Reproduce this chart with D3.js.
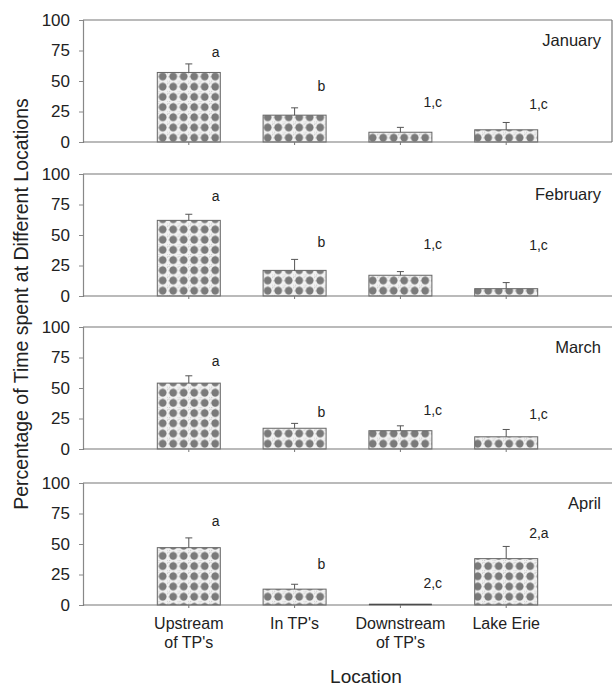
<!DOCTYPE html>
<html>
<head>
<meta charset="utf-8">
<script src="https://cdn.jsdelivr.net/npm/d3@7"></script>
<style>
  body { margin: 0; background: #fff; }
  text { font-family: "Liberation Sans", Arial, sans-serif; fill: #222; }
</style>
</head>
<body>
<svg id="chart" width="613" height="686"></svg>
<script>
// Data
const locations = ["Upstream|of TP's", "In TP's", "Downstream|of TP's", "Lake Erie"];
const months = ["January", "February", "March", "April"];
const means = [
  [57, 22, 8, 10],
  [62, 21, 17, 6],
  [54, 17, 15, 10],
  [47, 13, 0, 38]
];
const errTops = [
  [64, 28, 12, 16],
  [67, 30, 20, 11],
  [60, 21, 19, 16],
  [55, 17, 0, 48]
];
const letters = [
  ["a", "b", "1,c", "1,c"],
  ["a", "b", "1,c", "1,c"],
  ["a", "b", "1,c", "1,c"],
  ["a", "b", "2,c", "2,a"]
];
const letterY = [
  [74, 46, 33, 31],
  [82, 44, 43, 42],
  [72, 30, 32, 29],
  [69, 34, 18, 59]
];
const yTicks = [0, 25, 50, 75, 100];

const svg = d3.select("#chart");
const left = 83, right = 612;
const panelTops = [20, 174, 327, 483];
const panelH = 122;
const barW = 63;

// blotchy dot fill like the printed pattern
const defs = svg.append("defs");
const pat = defs.append("pattern")
  .attr("id", "dots")
  .attr("patternUnits", "userSpaceOnUse")
  .attr("width", 10.5)
  .attr("height", 10.2);
pat.append("rect").attr("width", 10.5).attr("height", 10.2).attr("fill", "#f2f2f2");
[[0.5, 0.8], [9.6, 1.5], [1.2, 9.4], [9.8, 9.6], [5.1, 0.3], [0.3, 5.0]].forEach(p => {
  pat.append("rect").attr("x", p[0]).attr("y", p[1]).attr("width", 0.9).attr("height", 0.9).attr("fill", "#b5b5b5");
});
pat.append("circle").attr("cx", 5.2).attr("cy", 5.1).attr("r", 3.9).attr("fill", "#7a7a7a");

const x = d3.scalePoint().domain(locations).range([left, right]).padding(1);

months.forEach((m, i) => {
  const top = panelTops[i];
  const y = d3.scaleLinear().domain([0, 100]).range([top + panelH, top]);
  const g = svg.append("g");

  // frame
  g.append("line").attr("x1", left).attr("x2", right).attr("y1", top).attr("y2", top)
    .attr("stroke", "#777").attr("stroke-width", 1.2);
  if (i === 0) {
    g.append("line").attr("x1", right).attr("x2", right).attr("y1", top).attr("y2", top + panelH)
      .attr("stroke", "#777").attr("stroke-width", 1.2);
  }

  // y axis
  const yAxis = g.append("g").attr("transform", `translate(${left},0)`)
    .call(d3.axisLeft(y).tickValues(yTicks).tickSize(4).tickPadding(9));
  yAxis.select(".domain").attr("stroke", "#888").attr("stroke-width", 1.2);
  yAxis.selectAll(".tick line").attr("stroke", "#888");
  yAxis.selectAll("text").style("font-size", "17px").style("fill", "#222")
    .style("font-family", "Liberation Sans, Arial, sans-serif");

  // bars
  const data = locations.map((c, j) => ({ c, v: means[i][j], e: errTops[i][j], l: letters[i][j], ly: letterY[i][j] }));

  g.selectAll(".bar").data(data).enter().append("rect")
    .attr("x", d => x(d.c) - barW / 2)
    .attr("y", d => y(d.v))
    .attr("width", barW)
    .attr("height", d => y(0) - y(d.v))
    .attr("fill", "url(#dots)")
    .attr("stroke", "#666")
    .attr("stroke-width", 1);

  // zero-height bar shows as a line
  g.selectAll(".zero").data(data.filter(d => d.v === 0)).enter().append("line")
    .attr("x1", d => x(d.c) - barW / 2).attr("x2", d => x(d.c) + barW / 2)
    .attr("y1", y(0) - 0.5).attr("y2", y(0) - 0.5)
    .attr("stroke", "#222").attr("stroke-width", 1.5);

  // error bars (upper only)
  const eb = g.selectAll(".err").data(data.filter(d => d.e > d.v)).enter().append("g");
  eb.append("line")
    .attr("x1", d => x(d.c)).attr("x2", d => x(d.c))
    .attr("y1", d => y(d.v)).attr("y2", d => y(d.e))
    .attr("stroke", "#555");
  eb.append("line")
    .attr("x1", d => x(d.c) - 3.5).attr("x2", d => x(d.c) + 3.5)
    .attr("y1", d => y(d.e)).attr("y2", d => y(d.e))
    .attr("stroke", "#555");

  // x axis baseline + ticks
  g.append("line").attr("x1", left).attr("x2", right).attr("y1", y(0)).attr("y2", y(0))
    .attr("stroke", "#777").attr("stroke-width", 1.2);
  g.selectAll(".xt").data(locations).enter().append("line")
    .attr("x1", d => x(d)).attr("x2", d => x(d))
    .attr("y1", y(0)).attr("y2", y(0) + 3)
    .attr("stroke", "#777");

  // significance letters
  g.selectAll(".lbl").data(data).enter().append("text")
    .attr("x", d => x(d.c) + 23)
    .attr("y", d => y(d.ly) + 5)
    .attr("text-anchor", "start")
    .style("font-size", "14px")
    .text(d => d.l);

  // month label
  g.append("text")
    .attr("x", 601).attr("y", top + 26)
    .attr("text-anchor", "end")
    .style("font-size", "16.5px")
    .text(m);
});

// category labels
const xl = svg.append("g");
locations.forEach(c => {
  const lines = c.split("|");
  const t = xl.append("text").attr("x", x(c)).attr("y", 629)
    .attr("text-anchor", "middle").style("font-size", "16px");
  lines.forEach((s, k) => {
    t.append("tspan").attr("x", x(c)).attr("dy", k === 0 ? 0 : 18.5).text(s);
  });
});

svg.append("text")
  .attr("x", 366).attr("y", 683)
  .attr("text-anchor", "middle")
  .style("font-size", "19px")
  .text("Location");

svg.append("text")
  .attr("transform", "translate(28,304) rotate(-90)")
  .attr("text-anchor", "middle")
  .style("font-size", "19.5px")
  .text("Percentage of Time spent at Different Locations");
</script>
</body>
</html>
